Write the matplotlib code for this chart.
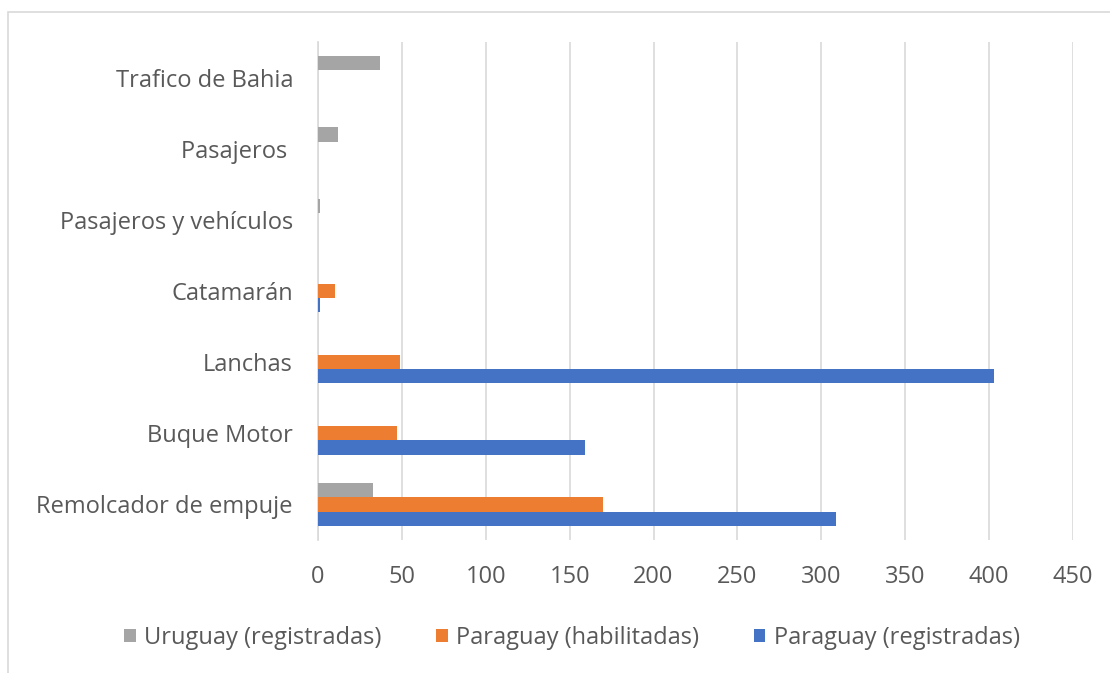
import numpy as np
import matplotlib.pyplot as plt
from matplotlib.patches import Rectangle

plt.rcParams['font.family'] = ['Open Sans', 'DejaVu Sans']

# categories from bottom to top
categories = ['Remolcador de empuje', 'Buque Motor', 'Lanchas', 'Catamarán',
              'Pasajeros y vehículos', 'Pasajeros ', 'Trafico de Bahia']
uruguay_reg = [33, 0, 0, 0, 1, 12, 37]
paraguay_hab = [170, 47, 49, 10, 0, 0, 0]
paraguay_reg = [309, 159, 403, 1, 0, 0, 0]
xticks = [0, 50, 100, 150, 200, 250, 300, 350, 400, 450]

grey = '#A5A5A5'
orange = '#ED7D31'
blue = '#4472C4'
text_col = '#595959'
fs = 17

fig = plt.figure(figsize=(11.1, 6.73), dpi=100)
ax = fig.add_axes([318/1110, 1-540/673, (1073-318)/1110, (540-42)/673])

y = np.arange(len(categories))
h = 0.2
ax.barh(y + h, uruguay_reg, height=h, color=grey, label='Uruguay (registradas)', zorder=3)
ax.barh(y, paraguay_hab, height=h, color=orange, label='Paraguay (habilitadas)', zorder=3)
ax.barh(y - h, paraguay_reg, height=h, color=blue, label='Paraguay (registradas)', zorder=3)

ax.set_xlim(0, 450)
ax.set_ylim(-0.5, len(categories) - 0.5)
ax.set_xticks(xticks)
ax.set_yticks(y)
ax.set_yticklabels(categories)
ax.tick_params(axis='both', length=0, colors=text_col, labelsize=fs)
ax.tick_params(axis='y', pad=18)
ax.tick_params(axis='x', pad=18)
ax.grid(axis='x', color='#D9D9D9', linewidth=1.2, zorder=0)
for s in ['top', 'right', 'bottom']:
    ax.spines[s].set_visible(False)
ax.spines['left'].set_color('#D9D9D9')
ax.spines['left'].set_linewidth(1.2)

fig.legend(loc='center', bbox_to_anchor=(572/1110, 1-638/673), ncol=3, frameon=False,
           handlelength=0.5, handleheight=0.5, handletextpad=0.35, columnspacing=2.3,
           labelcolor=text_col, fontsize=fs)

# outer chart frame
fig.patches.append(Rectangle((8/1110, -0.1), 1.2, 1.1 - 12/673, transform=fig.transFigure,
                             fill=False, edgecolor='#D9D9D9', linewidth=1.2))

fig.savefig('out.png', dpi=100, facecolor='white')
